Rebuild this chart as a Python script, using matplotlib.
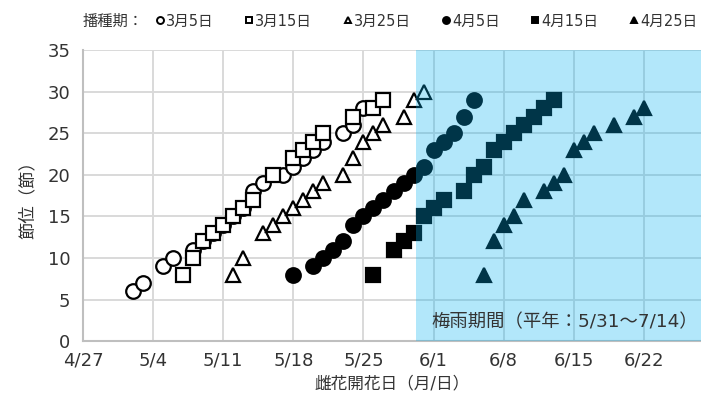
import datetime as dt
import matplotlib
matplotlib.use("Agg")
import matplotlib.pyplot as plt
import matplotlib.dates as mdates
from matplotlib.lines import Line2D
from matplotlib.ticker import FixedLocator, FuncFormatter

plt.rcParams['font.family'] = ['DejaVu Sans', 'Noto Sans CJK JP']
TXT = '#333333'

YEAR = 2021

# 播種期ごとの雌花開花日と節位
s0305_dates = ["5/2", "5/3", "5/5", "5/6", "5/8", "5/9", "5/10", "5/11", "5/12", "5/13",
               "5/14", "5/15", "5/17", "5/18", "5/19", "5/20", "5/21", "5/23", "5/24", "5/25"]
s0305_nodes = [6, 7, 9, 10, 11, 12, 13, 14, 15, 16, 18, 19, 20, 21, 22, 23, 24, 25, 26, 28]

s0315_dates = ["5/7", "5/8", "5/9", "5/10", "5/11", "5/12", "5/13", "5/14", "5/16",
               "5/18", "5/19", "5/20", "5/21", "5/24", "5/26", "5/27"]
s0315_nodes = [8, 10, 12, 13, 14, 15, 16, 17, 20, 22, 23, 24, 25, 27, 28, 29]

s0325_dates = ["5/12", "5/13", "5/15", "5/16", "5/17", "5/18", "5/19", "5/20", "5/21",
               "5/23", "5/24", "5/25", "5/26", "5/27", "5/29", "5/30", "5/31"]
s0325_nodes = [8, 10, 13, 14, 15, 16, 17, 18, 19, 20, 22, 24, 25, 26, 27, 29, 30]

s0405_dates = ["5/18", "5/20", "5/21", "5/22", "5/23", "5/24", "5/25", "5/26", "5/27",
               "5/28", "5/29", "5/30", "5/31", "6/1", "6/2", "6/3", "6/4", "6/5"]
s0405_nodes = [8, 9, 10, 11, 12, 14, 15, 16, 17, 18, 19, 20, 21, 23, 24, 25, 27, 29]

s0415_dates = ["5/26", "5/28", "5/29", "5/30", "5/31", "6/1", "6/2", "6/4", "6/5", "6/6",
               "6/7", "6/8", "6/9", "6/10", "6/11", "6/12", "6/13"]
s0415_nodes = [8, 11, 12, 13, 15, 16, 17, 18, 20, 21, 23, 24, 25, 26, 27, 28, 29]

s0425_dates = ["6/6", "6/7", "6/8", "6/9", "6/10", "6/12", "6/13", "6/14", "6/15",
               "6/16", "6/17", "6/19", "6/21", "6/22"]
s0425_nodes = [8, 12, 14, 15, 17, 18, 19, 20, 23, 24, 25, 26, 27, 28]

labels = ["3月5日", "3月15日", "3月25日", "4月5日", "4月15日", "4月25日"]
x_ticks = ["4/27", "5/4", "5/11", "5/18", "5/25", "6/1", "6/8", "6/15", "6/22"]
rain_start = "5/31"
rain_text = "梅雨期間（平年：5/31〜7/14）"


def d(s):
    m, day = s.split("/")
    return mdates.date2num(dt.date(YEAR, int(m), int(day)))


series = [
    (s0305_dates, s0305_nodes, 'o', 'white'),
    (s0315_dates, s0315_nodes, 's', 'white'),
    (s0325_dates, s0325_nodes, '^', 'white'),
    (s0405_dates, s0405_nodes, 'o', 'black'),
    (s0415_dates, s0415_nodes, 's', 'black'),
    (s0425_dates, s0425_nodes, '^', 'black'),
]

fig = plt.figure(figsize=(7.01, 3.95), dpi=100)
ax = fig.add_axes([83/701, 1-341.3/395, 1-83/701, (341.3-50)/395])

for i, (ds, ns, mk, fc) in enumerate(series):
    ax.plot([d(s) for s in ds], ns, linestyle='none', marker=mk, ms=10.5 if mk != '^' else 10,
            mfc=fc, mec='black', mew=1.6, zorder=3+i)

x0 = d("4/27")
ax.set_xlim(x0, x0 + 61.7)
ax.set_ylim(0, 35)
ax.xaxis.set_major_locator(FixedLocator([d(s) for s in x_ticks]))
ax.xaxis.set_major_formatter(FuncFormatter(
    lambda v, p: "{}/{}".format(mdates.num2date(v).month, mdates.num2date(v).day)))
ax.set_yticks(range(0, 36, 5))

ax.grid(True, color='#d9d9d9', lw=1.4, zorder=0)
ax.set_axisbelow(True)
for sp in ['top', 'right']:
    ax.spines[sp].set_visible(False)
for sp in ['left', 'bottom']:
    ax.spines[sp].set_color('#bfbfbf')
    ax.spines[sp].set_linewidth(1.5)
ax.tick_params(length=0, labelsize=13, colors=TXT)
ax.tick_params(axis='y', pad=9)
ax.tick_params(axis='x', pad=7)

# 梅雨期間の網掛け
ax.axvspan(d(rain_start) - 0.75, x0 + 61.7, color='#00B0F0', alpha=0.3, lw=0, zorder=10)
ax.text(d(rain_start) + 0.8, 2.3, rain_text, fontsize=13.2, va='center', ha='left',
        color=TXT, zorder=11)

ax.set_xlabel("雌花開花日（月/日）", fontsize=12, labelpad=4, color=TXT)
ax.set_ylabel("節位（節）", fontsize=12.5, labelpad=8, color=TXT)

handles = [Line2D([], [], linestyle='none', marker=mk, ms=5, mfc=fc, mec='black', mew=1.4)
           for (_, _, mk, fc) in series]
fig.legend(handles, labels, ncol=6, frameon=False, loc='center right',
           bbox_to_anchor=(697/701, 1-21/395), fontsize=10.5, handlelength=0.5,
           handletextpad=0.15, columnspacing=2.2, borderaxespad=0, borderpad=0,
           labelcolor=TXT)
fig.text(83/701, 1-21/395, "播種期：", fontsize=11, va='center', ha='left', color=TXT)

fig.savefig("out.png", dpi=100)
